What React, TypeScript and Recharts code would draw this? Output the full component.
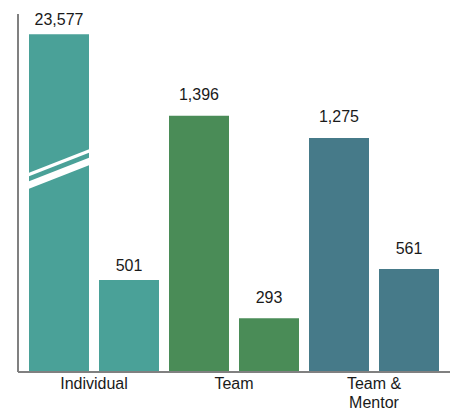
import { BarChart, Bar, XAxis, YAxis, Cell, LabelList, Rectangle, Text } from "recharts";

const categories = ["Individual", "Team", "Team & Mentor"];
const firstValues = [23577, 1396, 1275];
const secondValues = [501, 293, 561];
const categoryColors = ["#4aa198", "#4a8c57", "#467a89"];

// values above this are drawn with a broken bar
const breakCap = 1840;
const yMax = 1950;

const data = categories.map((name, i) => ({
  name,
  first: firstValues[i],
  second: secondValues[i],
  firstShown: Math.min(firstValues[i], breakCap),
  secondShown: Math.min(secondValues[i], breakCap),
}));

const FONT = "Arial, 'Liberation Sans', sans-serif";

function BrokenBar(props: any) {
  const { x, y, width, height, fill, payload } = props;
  const broken = payload && payload.first > breakCap;
  if (!broken) return <Rectangle x={x} y={y} width={width} height={height} fill={fill} />;
  const bt = y + height * 0.41;
  const rise = width * 0.39;
  const s1 = `${x},${bt} ${x + width},${bt - rise} ${x + width},${bt - rise + 3.5} ${x},${bt + 3.5}`;
  const s2 = `${x},${bt + 8.5} ${x + width},${bt + 8.5 - rise} ${x + width},${bt + 16 - rise} ${x},${bt + 16}`;
  return (
    <g>
      <Rectangle x={x} y={y} width={width} height={height} fill={fill} />
      <polygon points={s1} fill="#fff" />
      <polygon points={s2} fill="#fff" />
    </g>
  );
}

function renderLabel(props: any) {
  const { x, y, width, value, index } = props;
  const gap = index === 0 ? 9 : 15.5;
  return (
    <text
      x={x + width / 2}
      y={y - gap}
      textAnchor="middle"
      fill="#1a1a1a"
      fontSize={16}
      fontFamily={FONT}
    >
      {Number(value).toLocaleString("en-US")}
    </text>
  );
}

function CategoryTick(props: any) {
  const { x, y, payload } = props;
  return (
    <Text
      x={x}
      y={y}
      width={70}
      textAnchor="middle"
      verticalAnchor="start"
      lineHeight={19}
      fill="#1a1a1a"
      fontSize={16}
      fontFamily={FONT}
    >
      {payload.value}
    </Text>
  );
}

export default function App() {
  return (
    <div style={{ width: 453, height: 411, background: "#fff" }}>
      <style>{"body{margin:0}"}</style>
      <BarChart
        width={453}
        height={411}
        data={data}
        margin={{ top: 14, right: 3, bottom: 0, left: 17 }}
        barSize={60}
        barGap={10}
      >
        <XAxis
          dataKey="name"
          height={39}
          padding={{ left: 6, right: 6 }}
          axisLine={{ stroke: "#808080", strokeWidth: 2 }}
          tickLine={false}
          tick={<CategoryTick />}
          tickMargin={0}
          interval={0}
        />
        <YAxis
          width={1}
          domain={[0, yMax]}
          tick={false}
          tickLine={false}
          axisLine={{ stroke: "#808080", strokeWidth: 2 }}
        />
        <Bar dataKey="firstShown" isAnimationActive={false} shape={<BrokenBar />}>
          {data.map((d, i) => (
            <Cell key={d.name} fill={categoryColors[i]} />
          ))}
          <LabelList dataKey="first" content={renderLabel} />
        </Bar>
        <Bar dataKey="secondShown" isAnimationActive={false}>
          {data.map((d, i) => (
            <Cell key={d.name} fill={categoryColors[i]} />
          ))}
          <LabelList dataKey="second" content={renderLabel} />
        </Bar>
      </BarChart>
    </div>
  );
}
